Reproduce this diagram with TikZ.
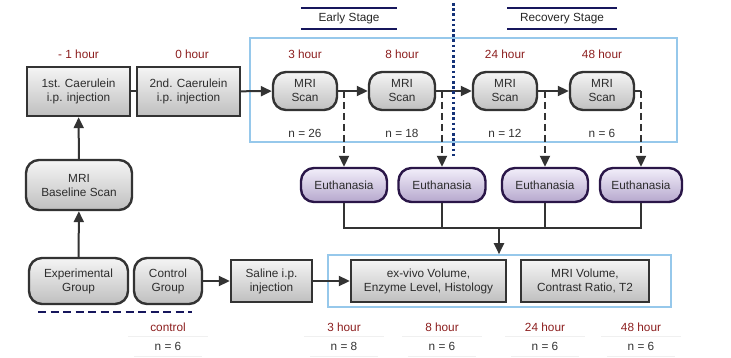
\documentclass[tikz,border=0pt]{standalone}
\usepackage{fontspec}
\setmainfont{Liberation Sans}
\usepackage{xcolor}
\usepackage{tikz}
\usetikzlibrary{arrows.meta,positioning,calc,fit}
\definecolor{hourred}{RGB}{140,30,30}
\definecolor{stagenavy}{RGB}{22,22,92}
\definecolor{dotnavy}{RGB}{20,50,120}
\definecolor{framblue}{RGB}{150,200,235}
\definecolor{eupurple}{RGB}{42,22,72}
\definecolor{eutop}{RGB}{242,238,250}
\definecolor{eubot}{RGB}{182,168,205}
\definecolor{boxtext}{RGB}{45,45,45}

\begin{document}
\begin{tikzpicture}[
  x=1pt, y=-1pt,
  every node/.style={font=\fontsize{11.8}{14}\selectfont},
  proc/.style={
    rectangle,
    draw=black!80,
    line width=2.4pt,
    top color=gray!8,
    bottom color=gray!50,
    text=boxtext,
    align=center,
    inner sep=1pt
  },
  rproc/.style={proc, rounded corners=13pt},
  euth/.style={
    proc,
    rounded corners=13pt,
    draw=eupurple,
    top color=eutop,
    bottom color=eubot,
    minimum height=34pt
  },
  frame/.style={draw=framblue, line width=1.6pt, inner sep=0pt},
  line/.style={draw=black!80, line width=2pt},
  arrow/.style={line, -{Triangle[length=11pt,width=10pt]}},
  dasharrow/.style={arrow, dash pattern=on 7pt off 4pt},
  hourlbl/.style={text=hourred, inner sep=0pt},
  nlbl/.style={text=black!80, inner sep=0pt},
  stagelbl/.style={text=black!85, minimum width=#1, minimum height=21pt, inner sep=0pt},
  stageline/.style={draw=stagenavy, line width=2pt},
  rule/.style={draw=black!6, line width=0.8pt}
]
\useasboundingbox (0,0) rectangle (731,358);

% Frames
\node[frame, fit={(250,38) (677,142)}] (early) {};
\node[frame, fit={(328,255) (671,307)}] (res) {};

% Stage headers
\node[stagelbl=96pt] (es) at (349,18.5) {Early Stage};
\node[stagelbl=109pt] (rs) at (562,18.5) {Recovery Stage};
\foreach \s in {es,rs} {
  \draw[stageline] (\s.north west) -- (\s.north east);
  \draw[stageline] (\s.south west) -- (\s.south east);
}

% Injections and scans
\node[proc, minimum width=103pt, minimum height=49pt] (c1) at (78.5,91.5) {1st. Caerulein\\i.p. injection};
\node[proc, minimum width=103pt, minimum height=49pt] (c2) at (188.5,91.5) {2nd. Caerulein\\i.p. injection};
\node[rproc, minimum width=64pt, minimum height=38pt] (s1) at (305,91) {MRI\\Scan};
\node[rproc, minimum width=66pt, minimum height=38pt] (s2) at (402,91) {MRI\\Scan};
\node[rproc, minimum width=64pt, minimum height=38pt] (s3) at (505,91) {MRI\\Scan};
\node[rproc, minimum width=64pt, minimum height=38pt] (s4) at (602,91) {MRI\\Scan};

% Groups
\node[rproc, minimum width=106pt, minimum height=50pt] (base) at (79,185) {MRI\\Baseline Scan};
\node[rproc, minimum width=99pt, minimum height=46pt] (expg) at (78.5,281) {Experimental\\Group};
\node[rproc, minimum width=68pt, minimum height=46pt] (ctrl) at (168,281) {Control\\Group};
\node[proc, minimum width=81pt, minimum height=42pt] (sal) at (271.5,281) {Saline i.p.\\injection};

% Results
\node[proc, minimum width=155pt, minimum height=42pt] (exv) at (428.5,281) {ex-vivo Volume,\\Enzyme Level, Histology};
\node[proc, minimum width=128pt, minimum height=42pt] (mriv) at (585,281) {MRI Volume,\\Contrast Ratio, T2};

% Euthanasia
\node[euth, minimum width=86pt] (eu1) at (344,185) {Euthanasia};
\node[euth, minimum width=87pt] (eu2) at (442,185) {Euthanasia};
\node[euth, minimum width=86pt] (eu3) at (545,185) {Euthanasia};
\node[euth, minimum width=82pt] (eu4) at (641,185) {Euthanasia};

% Time and count labels
\node[hourlbl] at (c1 |- 0,54) {- 1 hour};
\node[hourlbl] at (192,54) {0 hour};
\foreach \s/\h/\n in {s1/3/26, s2/8/18, s3/24/12, s4/48/6} {
  \node[hourlbl] at (\s |- 0,54) {\h{} hour};
  \node[nlbl] at (\s |- 0,133) {n = \n};
}
\node[hourlbl] at (ctrl |- 0,327) {control};
\node[nlbl] at (ctrl |- 0,346) {n = 6};
\foreach \s/\h/\n in {eu1/3/8, eu2/8/6, eu3/24/6, eu4/48/6} {
  \node[hourlbl] at (\s |- 0,327) {\h{} hour};
  \node[nlbl] at (\s |- 0,346) {n = \n};
}
\foreach \s in {ctrl,eu1,eu2,eu3,eu4} {
  \draw[rule] ($(\s |- 0,336)+(-40,0)$) -- ($(\s |- 0,336)+(40,0)$);
  \draw[rule] ($(\s |- 0,356)+(-34,0)$) -- ($(\s |- 0,356)+(34,0)$);
}

% Connections
\draw[line] (c1) -- (c2);
\draw[arrow] (c2) -- (s1);
\draw[arrow] (expg) -- (base);
\draw[arrow] (base) -- (c1);
\draw[arrow] (ctrl) -- (sal);
\draw[arrow] (sal) -- (exv);

\coordinate (j1) at (eu1.north |- s1.east);
\coordinate (j2) at (eu2.north |- s2.east);
\coordinate (j3) at (eu3.north |- s3.east);
\coordinate (j4) at (eu4.north |- s4.east);
\draw[line] (s1) -- (j1);
\draw[arrow] (j1) -- (s2);
\draw[line] (s2) -- (j2);
\draw[arrow] (j2) -- (s3);
\draw[line] (s3) -- (j3);
\draw[arrow] (j3) -- (s4);
\draw[line] (s4.east) -- (j4);
\foreach \i in {1,2,3,4}
  \draw[dasharrow] (j\i) -- (eu\i);

\coordinate (bus) at (499,228);
\draw[line] (eu1.south) -- (eu1.south |- bus) -- (eu4.south |- bus) -- (eu4.south);
\draw[line] (eu2.south) -- (eu2.south |- bus);
\draw[line] (eu3.south) -- (eu3.south |- bus);
\draw[arrow] (bus) -- (bus |- res.north);

% Stage divider
\draw[dotnavy, line width=3pt, dash pattern=on 2.6pt off 2.6pt] (453,3) -- (453,156);
\draw[stagenavy, line width=2.6pt, dash pattern=on 8pt off 4.5pt] (38,312) -- (192,312);

\end{tikzpicture}
\end{document}
